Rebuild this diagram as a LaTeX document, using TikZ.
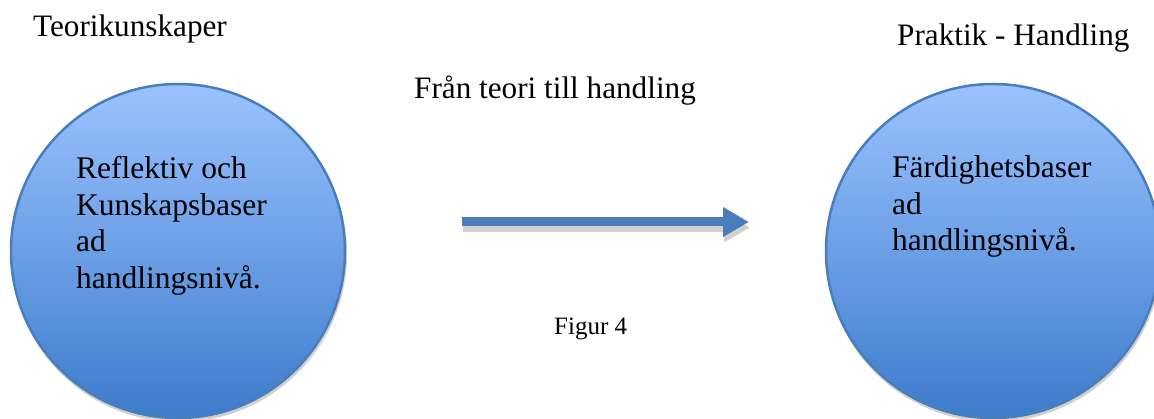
\documentclass[tikz,border=0pt]{standalone}
\usepackage{fontspec}
\setmainfont{Liberation Serif}
\usetikzlibrary{arrows.meta}
\definecolor{topblue}{RGB}{155,194,255}
\definecolor{botblue}{RGB}{60,124,204}
\definecolor{edgeblue}{RGB}{74,126,187}
\definecolor{arrowblue}{RGB}{74,126,187}
\definecolor{shadowgray}{RGB}{208,208,208}
\begin{document}
\begin{tikzpicture}[x=1pt,y=-1pt,
  ball/.style={circle, minimum size=334pt, inner sep=0pt, draw=edgeblue, line width=2.5pt, top color=topblue, bottom color=botblue},
  ballshadow/.style={circle, minimum size=336pt, inner sep=0pt, fill=shadowgray},
  headtext/.style={font=\fontsize{31.2}{37}\selectfont, inner sep=0pt, anchor=base west},
  innertext/.style={font=\fontsize{31.5}{38}\selectfont, inner sep=0pt, anchor=base west},
  figtext/.style={font=\fontsize{25}{30}\selectfont, inner sep=0pt, anchor=base west},
  bigarrow/.style={line width=9pt, -{Triangle[length=26pt,width=28pt]}}
]
\useasboundingbox (0,0) rectangle (1154,419);
\clip (0,0) rectangle (1154,419);

% circles
\node[ballshadow] (lshadow) at (179,254) {};
\node[ball] (lc) at (178,251) {};
\node[ballshadow] (rshadow) at (994,254) {};
\node[ball] (rc) at (993,251) {};

% headings
\node[headtext] (teori) at (33,37) {Teorikunskaper};
\node[headtext] (praktik) at (897,46) {Praktik - Handling};
\node[headtext] (fran) at (414,99) {Från teori till handling};

% circle texts
\node[innertext] (l1) at (76,179) {Reflektiv och};
\node[innertext] (l2) at (76,215.5) {Kunskapsbaser};
\node[innertext] (l3) at (76,252) {ad};
\node[innertext] (l4) at (76,288.5) {handlingsnivå.};
\node[innertext] (r1) at (892,178) {Färdighetsbaser};
\node[innertext] (r2) at (892,214.5) {ad};
\node[innertext] (r3) at (892,251) {handlingsnivå.};

\node[figtext] (fig) at (554,335) {Figur 4};

% arrow
\coordinate (as) at (462,222);
\coordinate (ae) at (749,222);
\coordinate (ass) at (462.5,227.5);
\coordinate (aes) at (750,227.5);
\draw[bigarrow, shadowgray] (ass) -- (aes);
\draw[bigarrow, arrowblue] (as) -- (ae);
\end{tikzpicture}
\end{document}
